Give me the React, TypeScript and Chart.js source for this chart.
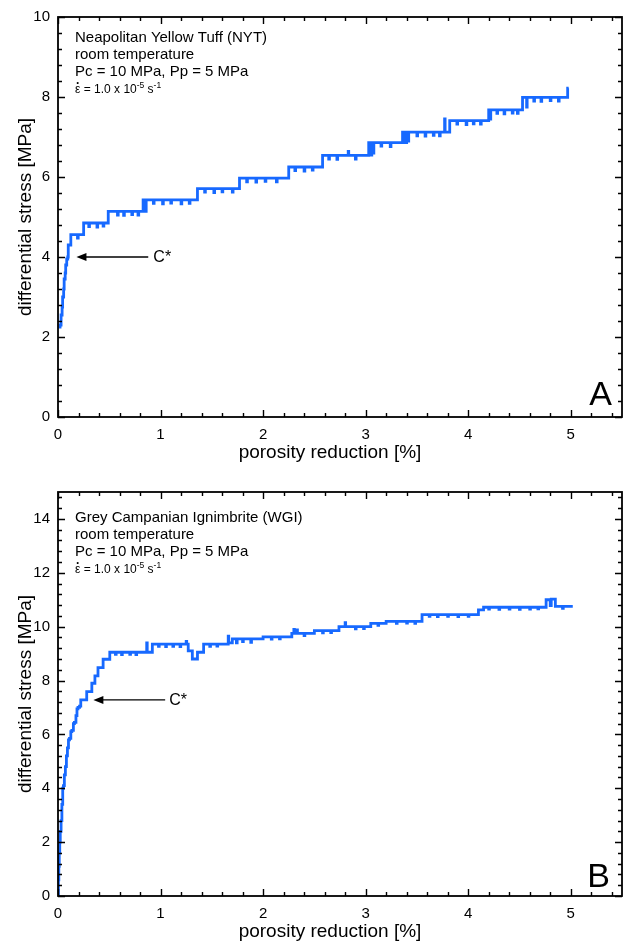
import React, { useEffect, useRef } from 'react';
import { Chart, registerables } from 'chart.js';

Chart.register(...registerables);

const FONT = '"Liberation Sans", Arial, Helvetica, sans-serif';
const LINE_BLUE = '#1769ff';

// ---- tick labels ----
const xTickValues = [0, 1, 2, 3, 4, 5];
const yTickValuesA = [0, 2, 4, 6, 8, 10];
const yTickValuesB = [0, 2, 4, 6, 8, 10, 12, 14];

// ---- panel A: Neapolitan Yellow Tuff ----
const porosityA = [
  0.005, 0.02, 0.03, 0.04, 0.045, 0.055, 0.06, 0.07, 0.075, 0.085, 0.095, 0.1, 0.12, 0.125,
  0.19, 0.197,
  0.25,
  0.3, 0.307, 0.38, 0.387, 0.44, 0.447,
  0.49,
  0.58, 0.587, 0.64, 0.647, 0.72, 0.727, 0.78, 0.787,
  0.83, 0.84, 0.86,
  0.93, 0.937, 1.02, 1.027, 1.1, 1.107, 1.2, 1.207, 1.28, 1.287,
  1.36,
  1.43, 1.437, 1.52, 1.527, 1.6, 1.607, 1.7, 1.707,
  1.77,
  1.84, 1.847, 1.93, 1.937, 2.02, 2.027, 2.13, 2.137,
  2.25,
  2.31, 2.317, 2.4, 2.407, 2.48, 2.487,
  2.58,
  2.64, 2.647, 2.72, 2.727, 2.83, 2.835, 2.9, 2.907,
  3.03, 3.04, 3.06, 3.07, 3.08,
  3.15, 3.157, 3.24, 3.247,
  3.36, 3.38, 3.4, 3.41, 3.42,
  3.5, 3.507, 3.58, 3.587, 3.66, 3.667, 3.72, 3.727,
  3.77, 3.775, 3.82,
  3.89, 3.897, 3.98, 3.987, 4.05, 4.057, 4.12, 4.127,
  4.2, 4.21, 4.22,
  4.28, 4.287, 4.35, 4.357, 4.43, 4.437, 4.48, 4.487,
  4.53, 4.57, 4.575,
  4.64, 4.647, 4.71, 4.717, 4.8, 4.807, 4.88, 4.887,
  4.97, 4.98,
];
const stressA = [
  2.25, 2.3, 2.55, 2.75, 3.0, 3.2, 3.45, 3.6, 3.8, 3.95, 4.0, 4.3, 4.3, 4.56,
  4.47, 4.56,
  4.85,
  4.76, 4.85, 4.75, 4.85, 4.77, 4.85,
  5.14,
  5.05, 5.14, 5.04, 5.14, 5.06, 5.14, 5.05, 5.14,
  5.43, 5.14, 5.43,
  5.34, 5.43, 5.33, 5.43, 5.35, 5.43, 5.33, 5.43, 5.34, 5.43,
  5.71,
  5.62, 5.71, 5.61, 5.71, 5.63, 5.71, 5.62, 5.71,
  5.97,
  5.88, 5.97, 5.87, 5.97, 5.89, 5.97, 5.88, 5.97,
  6.25,
  6.16, 6.25, 6.15, 6.25, 6.17, 6.25,
  6.54,
  6.45, 6.54, 6.44, 6.54, 6.64, 6.54, 6.45, 6.54,
  6.86, 6.55, 6.86, 6.6, 6.86,
  6.77, 6.86, 6.76, 6.86,
  7.12, 6.86, 7.12, 6.9, 7.12,
  7.03, 7.12, 7.02, 7.12, 7.04, 7.12, 7.03, 7.12,
  7.45, 7.12, 7.41,
  7.32, 7.41, 7.31, 7.41, 7.33, 7.41, 7.32, 7.41,
  7.68, 7.45, 7.68,
  7.59, 7.68, 7.58, 7.68, 7.6, 7.68, 7.59, 7.68,
  7.99, 7.75, 7.99,
  7.9, 7.99, 7.89, 7.99, 7.91, 7.99, 7.9, 7.99,
  8.22, 8.22,
];

// ---- panel B: Grey Campanian Ignimbrite ----
const porosityB = [
  0.0, 0.004, 0.008, 0.012, 0.017, 0.022, 0.03, 0.038, 0.046, 0.053, 0.062, 0.072, 0.082, 0.092, 0.102, 0.112, 0.125, 0.135, 0.15, 0.16, 0.175, 0.185, 0.195, 0.21, 0.222,
  0.28, 0.33, 0.36, 0.39, 0.44, 0.505,
  0.56, 0.567, 0.62, 0.627, 0.7, 0.707, 0.76, 0.767,
  0.865, 0.87, 0.92,
  0.98, 0.987, 1.05, 1.057, 1.12, 1.127, 1.19, 1.197,
  1.25, 1.255, 1.27, 1.31, 1.36, 1.42,
  1.48, 1.487, 1.55, 1.557,
  1.66, 1.665, 1.7,
  1.74, 1.747, 1.8, 1.807, 1.88, 1.887,
  2.0,
  2.08, 2.087, 2.16, 2.167,
  2.28, 2.3, 2.305, 2.33, 2.335,
  2.4, 2.407, 2.5,
  2.58, 2.587, 2.66, 2.667,
  2.74, 2.8, 2.805, 2.85,
  2.9, 2.907, 2.98, 2.987,
  3.05,
  3.12, 3.127, 3.2, 3.3, 3.307, 3.4, 3.407, 3.48, 3.487,
  3.55,
  3.62, 3.627, 3.7, 3.707, 3.8, 3.807, 3.9, 3.907, 4.0, 4.007,
  4.1, 4.15,
  4.2, 4.207, 4.3, 4.307, 4.4, 4.407, 4.5, 4.507, 4.6, 4.607, 4.68, 4.687,
  4.76, 4.8, 4.81, 4.85,
  4.92, 4.927, 5.02,
];
const stressB = [
  0.0, 0.6, 1.1, 1.6, 2.0, 2.4, 2.8, 3.4, 4.0, 4.1, 4.5, 4.8, 5.2, 5.5, 5.8, 5.85, 6.1, 6.15, 6.4, 6.45, 6.7, 6.95, 7.0, 7.05, 7.28,
  7.59, 7.9, 8.17, 8.48, 8.79, 9.05,
  8.97, 9.05, 8.96, 9.05, 8.97, 9.05, 8.96, 9.05,
  9.4, 9.05, 9.35,
  9.27, 9.35, 9.26, 9.35, 9.27, 9.35, 9.26, 9.35,
  9.45, 9.35, 9.1, 8.8, 9.05, 9.35,
  9.27, 9.35, 9.28, 9.35,
  9.65, 9.4, 9.55,
  9.4, 9.55, 9.45, 9.55, 9.42, 9.55,
  9.62,
  9.54, 9.62, 9.55, 9.62,
  9.75, 9.9, 9.75, 9.88, 9.75,
  9.67, 9.75, 9.85,
  9.77, 9.85, 9.78, 9.85,
  10.0, 10.15, 10.0, 10.0,
  9.92, 10.0, 9.93, 10.0,
  10.12,
  10.05, 10.12, 10.2, 10.12, 10.2, 10.13, 10.2, 10.12, 10.2,
  10.45,
  10.38, 10.45, 10.37, 10.45, 10.38, 10.45, 10.37, 10.45, 10.38, 10.45,
  10.62, 10.72,
  10.65, 10.72, 10.64, 10.72, 10.65, 10.72, 10.64, 10.72, 10.65, 10.72, 10.66, 10.72,
  11.0, 10.78, 11.02, 10.75,
  10.68, 10.75, 10.75,
];

const infoLinesA = ['Neapolitan Yellow Tuff (NYT)', 'room temperature', 'Pc = 10 MPa, Pp = 5 MPa'];
const infoLinesB = ['Grey Campanian Ignimbrite (WGI)', 'room temperature', 'Pc = 10 MPa, Pp = 5 MPa'];

interface PanelSpec {
  id: string;
  xs: number[];
  ys: number[];
  yTicks: number[];
  yMax: number;
  height: number;
  padTop: number;
  xAxisH: number;
  lines: string[];
  lineBase: number[];
  letter: string;
  letterDx: number;
  letterDy: number;
  arrow: { from: number; to: number; y: number; labelX: number };
}

const panelA: PanelSpec = {
  id: 'A',
  xs: porosityA,
  ys: stressA,
  yTicks: yTickValuesA,
  yMax: 10,
  height: 470,
  padTop: 14,
  xAxisH: 53,
  lines: infoLinesA,
  lineBase: [24.5, 42, 59, 75.5],
  letter: 'A',
  letterDx: 10,
  letterDy: 12,
  arrow: { from: 0.88, to: 0.18, y: 4.0, labelX: 0.93 },
};

const panelB: PanelSpec = {
  id: 'B',
  xs: porosityB,
  ys: stressB,
  yTicks: yTickValuesB,
  yMax: 15,
  height: 473,
  padTop: 22,
  xAxisH: 47,
  lines: infoLinesB,
  lineBase: [29.5, 46.5, 63.5, 80.5],
  letter: 'B',
  letterDx: 12,
  letterDy: 9,
  arrow: { from: 1.045, to: 0.345, y: 7.28, labelX: 1.085 },
};

function decorPlugin(p: PanelSpec) {
  return {
    id: 'decor' + p.id,
    afterDraw(chart: any) {
      const { ctx, chartArea: a } = chart;
      const sx = chart.scales.x;
      const sy = chart.scales.y;
      ctx.save();
      ctx.strokeStyle = '#000';
      ctx.fillStyle = '#000';
      // frame
      ctx.lineWidth = 1.8;
      ctx.strokeRect(a.left, a.top, a.right - a.left, a.bottom - a.top);
      // inward ticks on all sides
      ctx.lineWidth = 1.4;
      ctx.beginPath();
      const nx = Math.floor(5.5 / 0.2 + 1e-6);
      for (let i = 0; i <= nx; i++) {
        const px = Math.round(sx.getPixelForValue(i * 0.2)) + 0.5;
        const len = i % 5 === 0 ? 7 : 4;
        ctx.moveTo(px, a.bottom);
        ctx.lineTo(px, a.bottom - len);
        ctx.moveTo(px, a.top);
        ctx.lineTo(px, a.top + len);
      }
      const ny = Math.floor(p.yMax / 0.4 + 1e-6);
      for (let j = 0; j <= ny; j++) {
        const py = Math.round(sy.getPixelForValue(j * 0.4)) + 0.5;
        const len = j % 5 === 0 ? 7 : 4;
        ctx.moveTo(a.left, py);
        ctx.lineTo(a.left + len, py);
        ctx.moveTo(a.right, py);
        ctx.lineTo(a.right - len, py);
      }
      ctx.stroke();

      // info text
      ctx.textAlign = 'left';
      ctx.textBaseline = 'alphabetic';
      ctx.font = `15px ${FONT}`;
      const tx = a.left + 17;
      p.lines.forEach((t, i) => ctx.fillText(t, tx, a.top + p.lineBase[i]));
      let x0 = tx;
      const by = a.top + p.lineBase[3];
      // epsilon with dot above
      ctx.font = `12px ${FONT}`;
      const epsW = ctx.measureText('\u03B5').width;
      ctx.fillText('\u03B5', x0, by);
      ctx.textAlign = 'center';
      ctx.font = `bold 12px ${FONT}`;
      ctx.fillText('.', x0 + epsW / 2, by - 8.5);
      ctx.textAlign = 'left';
      x0 += epsW;
      const seg = (t: string, size: number, dy: number) => {
        ctx.font = `${size}px ${FONT}`;
        ctx.fillText(t, x0, by + dy);
        x0 += ctx.measureText(t).width;
      };
      seg(' = 1.0 x 10', 12, 0);
      seg('-5', 8.5, -5);
      seg(' s', 12, 0);
      seg('-1', 8.5, -5);

      // arrow + label
      const ay = sy.getPixelForValue(p.arrow.y);
      const xl = sx.getPixelForValue(p.arrow.to);
      const xr = sx.getPixelForValue(p.arrow.from);
      ctx.lineWidth = 1.3;
      ctx.beginPath();
      ctx.moveTo(xr, ay);
      ctx.lineTo(xl + 6, ay);
      ctx.stroke();
      ctx.beginPath();
      ctx.moveTo(xl, ay);
      ctx.lineTo(xl + 10, ay - 4);
      ctx.lineTo(xl + 10, ay + 4);
      ctx.closePath();
      ctx.fill();
      ctx.font = `16px ${FONT}`;
      ctx.textBaseline = 'middle';
      ctx.fillText('C*', sx.getPixelForValue(p.arrow.labelX), ay + 1);

      // panel letter
      ctx.font = `34px ${FONT}`;
      ctx.textAlign = 'right';
      ctx.textBaseline = 'alphabetic';
      ctx.fillText(p.letter, a.right - p.letterDx, a.bottom - p.letterDy);

      // axis titles
      ctx.font = `19px ${FONT}`;
      ctx.textAlign = 'center';
      ctx.fillText('porosity reduction [%]', 330, a.bottom + 41);
      ctx.translate(31, (a.top + a.bottom) / 2);
      ctx.rotate(-Math.PI / 2);
      ctx.fillText('differential stress [MPa]', 0, 0);
      ctx.restore();
    },
  };
}

function buildConfig(p: PanelSpec): any {
  const tickFont = { family: FONT, size: 15 };
  return {
    type: 'line',
    data: {
      datasets: [
        {
          data: p.xs.map((x, i) => ({ x, y: p.ys[i] })),
          borderColor: LINE_BLUE,
          borderWidth: 2.8,
          pointRadius: 0,
          stepped: true,
          fill: false,
        },
      ],
    },
    options: {
      responsive: false,
      animation: false,
      events: [],
      layout: { padding: { top: p.padTop, right: 3, left: 0, bottom: 0 } },
      plugins: { legend: { display: false }, tooltip: { enabled: false }, title: { display: false } },
      scales: {
        x: {
          type: 'linear',
          min: 0,
          max: 5.5,
          afterBuildTicks: (s: any) => {
            s.ticks = xTickValues.map((value) => ({ value }));
          },
          afterFit: (s: any) => {
            s.height = p.xAxisH;
          },
          grid: { display: false, drawTicks: false },
          border: { display: false },
          ticks: { padding: 9, color: '#000', font: tickFont, maxRotation: 0, autoSkip: false },
        },
        y: {
          type: 'linear',
          min: 0,
          max: p.yMax,
          afterBuildTicks: (s: any) => {
            s.ticks = p.yTicks.map((value) => ({ value }));
          },
          afterFit: (s: any) => {
            s.width = 58;
          },
          grid: { display: false, drawTicks: false },
          border: { display: false },
          ticks: { padding: 8, color: '#000', font: tickFont, autoSkip: false },
        },
      },
    },
    plugins: [decorPlugin(p)],
  };
}

function Panel({ p }: { p: PanelSpec }) {
  const ref = useRef<HTMLCanvasElement>(null);
  useEffect(() => {
    const chart = new Chart(ref.current as HTMLCanvasElement, buildConfig(p));
    return () => chart.destroy();
  }, [p]);
  return (
    <canvas
      ref={ref}
      width={625}
      height={p.height}
      style={{ display: 'block', width: 625, height: p.height }}
    />
  );
}

export default function App() {
  return (
    <div style={{ position: 'absolute', left: 0, top: 0, width: 625, height: 943, background: '#fff' }}>
      <Panel p={panelA} />
      <Panel p={panelB} />
    </div>
  );
}
